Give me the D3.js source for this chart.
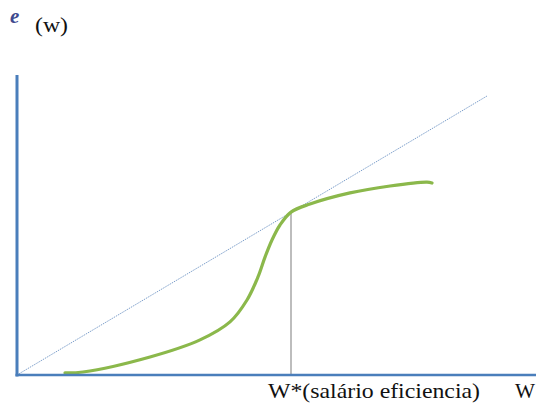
<!DOCTYPE html>
<html>
<head>
<meta charset="utf-8">
<script src="https://cdn.jsdelivr.net/npm/d3@7"></script>
<style>
  body { margin: 0; background: #fff; }
</style>
</head>
<body>
<div id="chart"></div>
<script>
// effort curve e(w), in chart units (w from 0..100, e from 0..100)
var curveW = [9.6, 13.2, 26.6, 36.6, 42.6, 46, 48.2, 49.6, 51, 52.6, 54.8, 58.6, 66.6, 74.6, 82, 83];
var curveE = [0.7, 1, 6, 11.7, 17.7, 25, 32.7, 39.3, 45, 50, 54.3, 57, 60.7, 63, 64.3, 64];

// ray from the origin
var rayW = [0, 94];
var rayE = [0, 93];

// efficiency wage
var wStar = 54.8;
var eStar = 54.3;

var width = 536, height = 405;
var serif = "Liberation Serif";

var x = d3.scaleLinear().domain([0, 100]).range([17, 517]);
var y = d3.scaleLinear().domain([0, 100]).range([375, 75]);

var svg = d3.select("#chart").append("svg")
    .attr("width", width)
    .attr("height", height);

/* ray e = w */
svg.append("line")
    .attr("x1", x(rayW[0])).attr("y1", y(rayE[0]))
    .attr("x2", x(rayW[1])).attr("y2", y(rayE[1]))
    .attr("stroke", "#7d9fcb")
    .attr("stroke-width", 1)
    .attr("stroke-dasharray", "1.5,1");

/* vertical at W* */
svg.append("line")
    .attr("x1", x(wStar)).attr("y1", y(eStar))
    .attr("x2", x(wStar)).attr("y2", y(0))
    .attr("stroke", "#9a9a9a")
    .attr("stroke-width", 1.3);

/* effort curve */
var pts = curveW.map(function(w, i) { return [w, curveE[i]]; });
var line = d3.line()
    .x(function(d) { return x(d[0]); })
    .y(function(d) { return y(d[1]); })
    .curve(d3.curveCatmullRom.alpha(0.5));

svg.append("path")
    .datum(pts)
    .attr("d", line)
    .attr("fill", "none")
    .attr("stroke", "#8bb84b")
    .attr("stroke-width", 3.2)
    .attr("stroke-linecap", "round");

/* axes */
svg.append("line")
    .attr("x1", x(0)).attr("y1", y(100))
    .attr("x2", x(0)).attr("y2", y(0) + 1.5)
    .attr("stroke", "#4a7ebb")
    .attr("stroke-width", 3);

svg.append("line")
    .attr("x1", x(0) - 1.5).attr("y1", y(0))
    .attr("x2", width).attr("y2", y(0))
    .attr("stroke", "#4a7ebb")
    .attr("stroke-width", 2.5);

/* labels */
svg.append("text")
    .attr("x", 10).attr("y", 23)
    .attr("font-family", serif)
    .attr("font-size", 21)
    .attr("font-style", "italic")
    .attr("font-weight", "bold")
    .attr("fill", "#3f4a8e")
    .text("e");

svg.append("text")
    .attr("x", 35).attr("y", 32)
    .attr("font-family", serif)
    .attr("font-size", 21)
    .attr("fill", "#111")
    .attr("textLength", 33)
    .attr("lengthAdjust", "spacingAndGlyphs")
    .text("(w)");

svg.append("text")
    .attr("x", 268).attr("y", 398)
    .attr("font-family", serif)
    .attr("font-size", 21)
    .attr("fill", "#111")
    .attr("textLength", 212)
    .attr("lengthAdjust", "spacingAndGlyphs")
    .text("W*(salário eficiencia)");

svg.append("text")
    .attr("x", 515).attr("y", 398)
    .attr("font-family", serif)
    .attr("font-size", 21)
    .attr("fill", "#111")
    .attr("textLength", 20)
    .attr("lengthAdjust", "spacingAndGlyphs")
    .text("W");
</script>
</body>
</html>
